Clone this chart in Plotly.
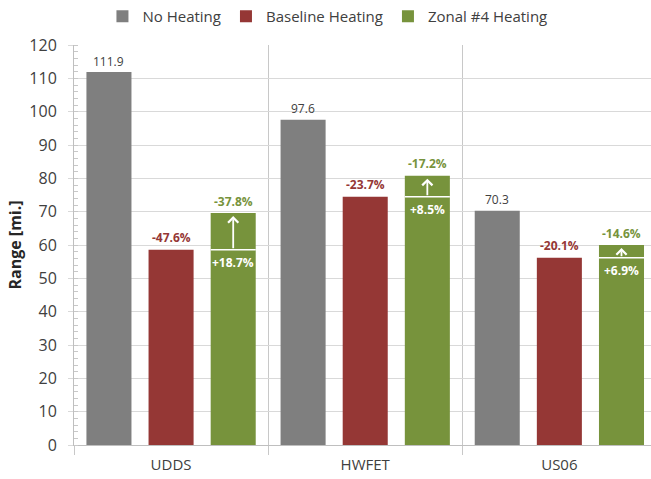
import plotly.graph_objects as go

# Driving range per test cycle [mi.]
cycles = ["UDDS", "HWFET", "US06"]
no_heating = [111.9, 97.6, 70.3]
baseline_heating = [58.6, 74.5, 56.2]
zonal_heating = [69.6, 80.8, 60.0]

# Range change labels
baseline_vs_none = ["-47.6%", "-23.7%", "-20.1%"]
zonal_vs_none = ["-37.8%", "-17.2%", "-14.6%"]
zonal_vs_baseline = ["+18.7%", "+8.5%", "+6.9%"]

GRAY = "#7f7f7f"
RED = "#953735"
GREEN = "#77933c"
FONT = "Open Sans"

BARGAP = 0.04
BARGROUPGAP = 0.275
slot = (1 - BARGAP) / 3
bar_w = slot * (1 - BARGROUPGAP)

x = list(range(len(cycles)))

fig = go.Figure()
for name, vals, col in [("No Heating", no_heating, GRAY),
                        ("Baseline Heating", baseline_heating, RED),
                        ("Zonal #4 Heating", zonal_heating, GREEN)]:
    fig.add_trace(go.Bar(x=x, y=vals, name=name, marker_color=col,
                         marker_line_width=0, hoverinfo="skip"))

ann = []
shapes = []
for i in x:
    xg, xr, xz = i - slot, i, i + slot
    # value of the unheated range
    ann.append(dict(x=xg, y=no_heating[i], text=f"{no_heating[i]:.1f}", showarrow=False,
                    yshift=11, font=dict(size=12, color="#404040", family=FONT)))
    ann.append(dict(x=xr, y=baseline_heating[i], text=f"<b>{baseline_vs_none[i]}</b>",
                    showarrow=False, yshift=12, font=dict(size=12, color=RED, family=FONT)))
    ann.append(dict(x=xz, y=zonal_heating[i], text=f"<b>{zonal_vs_none[i]}</b>",
                    showarrow=False, yshift=12, font=dict(size=12, color=GREEN, family=FONT)))
    # baseline level marked inside the zonal bar
    shapes.append(dict(type="line", xref="x", yref="y",
                       x0=xz - bar_w / 2, x1=xz + bar_w / 2,
                       y0=baseline_heating[i], y1=baseline_heating[i],
                       line=dict(color="white", width=1.5)))
    ann.append(dict(x=xz, y=baseline_heating[i], text=f"<b>{zonal_vs_baseline[i]}</b>",
                    showarrow=False, yshift=-13, font=dict(size=12, color="white", family=FONT)))
    ann.append(dict(x=xz, y=zonal_heating[i] - 0.9, ax=xz, ay=baseline_heating[i],
                    xref="x", yref="y", axref="x", ayref="y", text="",
                    showarrow=True, arrowhead=4, arrowsize=1.1, arrowwidth=1.8,
                    arrowcolor="white", standoff=0, startstandoff=0))

fig.update_layout(
    width=651, height=479,
    margin=dict(l=74, r=0, t=45, b=34),
    paper_bgcolor="white", plot_bgcolor="white",
    barmode="group", bargap=BARGAP, bargroupgap=BARGROUPGAP,
    font=dict(family=FONT, color="#404040"),
    showlegend=True,
    legend=dict(orientation="h", xref="container", yref="container",
                x=0.503, xanchor="center", y=1.0, yanchor="top",
                font=dict(size=15, color="#404040", family=FONT),
                itemwidth=30, tracegroupgap=0),
    annotations=ann,
    shapes=shapes,
)

fig.update_xaxes(
    range=[-0.5, 2.472],
    tickmode="array", tickvals=x, ticktext=cycles,
    ticks="", showgrid=False, zeroline=False,
    showline=True, linecolor="#bfbfbf", linewidth=1,
    tickfont=dict(size=15, color="#404040", family=FONT),
    ticklabelstandoff=6,
    minor=dict(tickmode="array", tickvals=[-0.5, 0.5, 1.5, 2.5],
               showgrid=True, gridcolor="#c8c8c8", gridwidth=1,
               ticks="outside", ticklen=9, tickcolor="#c8c8c8"),
)

fig.update_yaxes(
    range=[0, 120], dtick=10, tick0=0,
    showgrid=True, gridcolor="#d9d9d9", gridwidth=1, zeroline=False,
    showline=True, linecolor="#bfbfbf", linewidth=1,
    ticks="outside", ticklen=5, tickcolor="#d9d9d9",
    tickfont=dict(size=16, color="#404040", family=FONT),
    ticklabelstandoff=8,
    minor=dict(dtick=2, ticks="inside", ticklen=4, tickcolor="#c8c8c8", showgrid=False),
    title=dict(text="<b>Range [mi.]</b>", font=dict(size=16, color="#262626", family=FONT),
               standoff=3),
)

fig.write_html("out.html")
